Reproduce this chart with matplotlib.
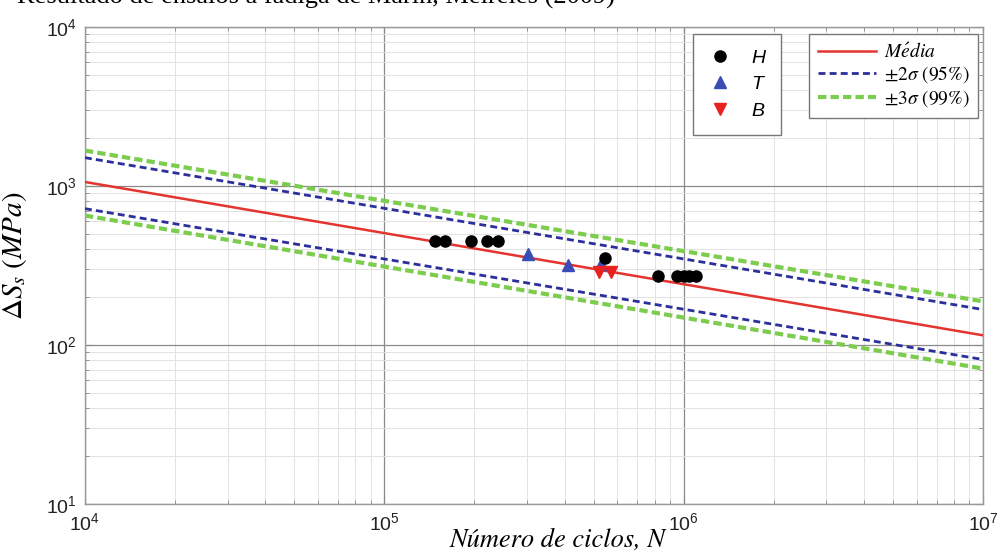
import math
import matplotlib
matplotlib.use("Agg")
import matplotlib.pyplot as plt
from matplotlib.ticker import LogLocator, FuncFormatter, NullFormatter
from matplotlib.lines import Line2D

plt.rcParams["font.family"] = ["Liberation Sans", "DejaVu Sans"]
plt.rcParams["mathtext.fontset"] = "custom"
plt.rcParams["mathtext.rm"] = "Liberation Sans"
plt.rcParams["mathtext.it"] = "Liberation Sans:italic"
plt.rcParams["mathtext.bf"] = "Liberation Sans:bold"

# Test results: number of cycles N and stress range (MPa) per series
N_H = [1.48e5, 1.59e5, 1.95e5, 2.2e5, 2.4e5, 5.45e5, 8.2e5, 9.5e5, 1.0e6, 1.04e6, 1.1e6]
S_H = [452, 452, 452, 452, 452, 350, 270, 270, 270, 270, 270]
N_T = [3.03e5, 4.12e5, 5.3e5]
S_T = [375, 320, 322]
N_B = [5.22e5, 5.73e5]
S_B = [288, 288]

# S-N curve and scatter bands, evaluated at the ends of the N range
N_ends = [1e4, 1e7]
S_mean = [1060, 115]
S_up2 = [1507, 167]
S_lo2 = [720, 81]
S_up3 = [1670, 188]
S_lo3 = [652, 71]

series_labels = ["H", "T", "B"]
curve_labels = [r"$M\acute{e}dia$", r"$\pm 2\sigma$ (95%)", r"$\pm 3\sigma$ (99%)"]

fig = plt.figure(figsize=(9.99, 5.54), dpi=100)
ax = fig.add_axes([0.085, 0.0903, 0.899, 0.861])

red = "#e3342f"
blue = "#2b2f9c"
green = "#7ccc4e"

ax.plot(N_ends, S_up3, color=green, lw=3.0, ls=(0, (2.0, 1.0)), zorder=3)
ax.plot(N_ends, S_lo3, color=green, lw=3.0, ls=(0, (2.0, 1.0)), zorder=3)
ax.plot(N_ends, S_up2, color=blue, lw=2.0, ls=(0, (2.5, 1.5)), zorder=4)
ax.plot(N_ends, S_lo2, color=blue, lw=2.0, ls=(0, (2.5, 1.5)), zorder=4)
ax.plot(N_ends, S_mean, color=red, lw=1.8, zorder=5)

ax.plot(N_H, S_H, "o", color="black", ms=8, zorder=7)
ax.plot(N_T, S_T, "^", color="#3a4db5", ms=8, zorder=6)
ax.plot(N_B, S_B, "v", color="#e8231f", ms=8, zorder=6)

ax.set_xscale("log")
ax.set_yscale("log")
ax.set_xlim(1e4, 1e7)
ax.set_ylim(1e1, 1e4)

ax.xaxis.set_major_locator(LogLocator(base=10, numticks=10))
ax.yaxis.set_major_locator(LogLocator(base=10, numticks=10))
ax.xaxis.set_minor_locator(LogLocator(base=10, subs=range(2, 10), numticks=100))
ax.yaxis.set_minor_locator(LogLocator(base=10, subs=range(2, 10), numticks=100))
ax.xaxis.set_minor_formatter(NullFormatter())
ax.yaxis.set_minor_formatter(NullFormatter())


def pow10(v, pos):
    return r"$10^{%d}$" % round(math.log10(v))


ax.xaxis.set_major_formatter(FuncFormatter(pow10))
ax.yaxis.set_major_formatter(FuncFormatter(pow10))

ax.grid(which="major", color="#8a8a8a", lw=0.9)
ax.grid(which="minor", color="#e2e2e2", lw=0.7)
ax.set_axisbelow(True)

ax.tick_params(which="both", direction="in", top=True, right=True, colors="#888888",
               labelcolor="#222222")
ax.tick_params(which="major", length=6, labelsize=14, pad=6)
ax.tick_params(axis="x", which="major", pad=6)
ax.tick_params(which="minor", length=3)
for sp in ax.spines.values():
    sp.set_color("#999999")
    sp.set_linewidth(1.0)

ax.set_xlabel("Número de ciclos, N", family="STIXGeneral", style="italic", fontsize=19)
ax.xaxis.set_label_coords(0.526, -0.0901, transform=ax.transAxes)
ax.xaxis.label.set_va("baseline")
ax.set_ylabel(r"$\Delta S_s\ (MPa)$", fontsize=21)
ax.yaxis.label.set_math_fontfamily("stix")
ax.yaxis.set_label_coords(-0.062, 0.52)

h1 = [Line2D([], [], ls="none", marker="o", color="black", ms=8),
      Line2D([], [], ls="none", marker="^", color="#3a4db5", ms=8),
      Line2D([], [], ls="none", marker="v", color="#e8231f", ms=8)]
leg1 = ax.legend(h1, series_labels, loc="upper left", bbox_to_anchor=(0.677, 0.986),
                 fancybox=False, edgecolor="#777777", framealpha=1,
                 prop={"family": "Liberation Sans", "style": "italic", "size": 14},
                 handlelength=1.2, handletextpad=1.0, labelspacing=0.45,
                 borderpad=0.8, borderaxespad=0)
leg1.get_frame().set_linewidth(1.0)
ax.add_artist(leg1)

h2 = [Line2D([], [], color=red, lw=1.8),
      Line2D([], [], color=blue, lw=2.0, ls=(0, (2.5, 1.5))),
      Line2D([], [], color=green, lw=3.0, ls=(0, (2.0, 1.0)))]
leg2 = ax.legend(h2, curve_labels, loc="upper left", bbox_to_anchor=(0.806, 0.986),
                 fancybox=False, edgecolor="#777777", framealpha=1,
                 prop={"family": "STIXGeneral", "size": 14},
                 handlelength=3.0, handletextpad=0.4, labelspacing=0.15,
                 borderpad=0.45, borderaxespad=0)
leg2.get_frame().set_linewidth(1.0)
for t in leg2.get_texts():
    t.set_math_fontfamily("stix")

fig.text(0.017, 1 - 4 / 554, "Resultado de ensaios à fadiga de Marin, Meireles (2009)",
         family="Liberation Serif", fontsize=19, ha="left", va="baseline")

fig.savefig("out.png", dpi=100)
